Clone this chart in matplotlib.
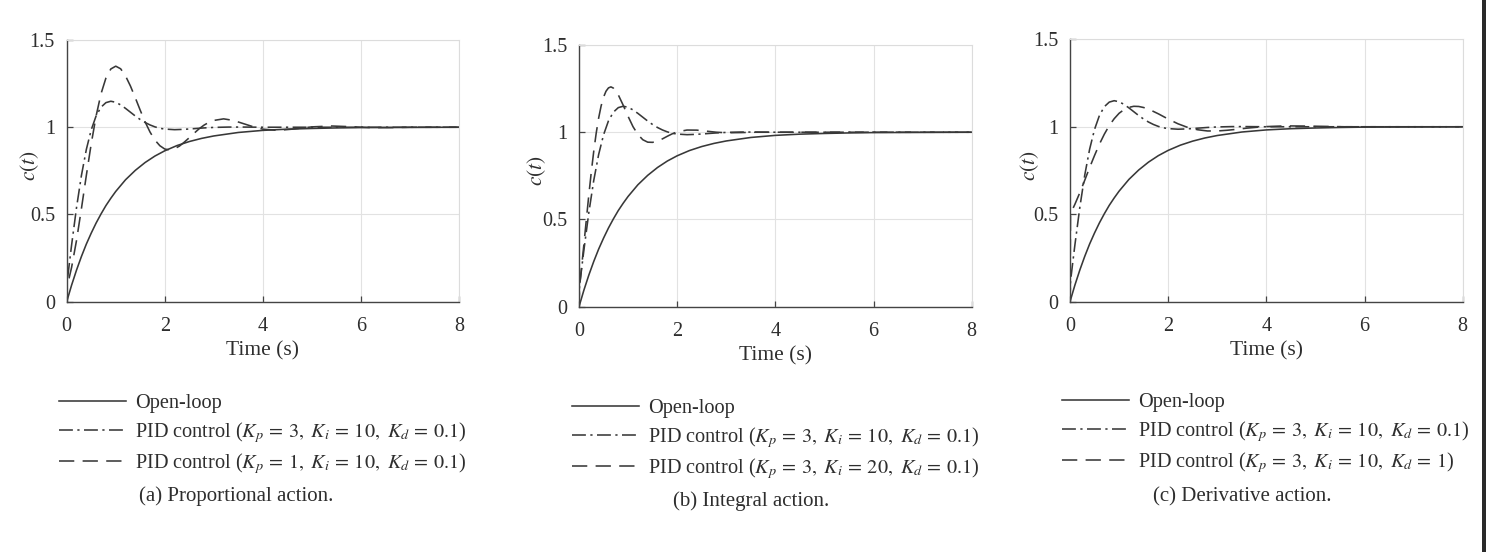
import matplotlib
matplotlib.use('Agg')
import matplotlib.pyplot as plt
from matplotlib.ticker import FuncFormatter
from matplotlib.patches import Rectangle

plt.rcParams['font.family'] = ['Liberation Serif', 'DejaVu Serif']
plt.rcParams['mathtext.fontset'] = 'stix'
plt.rcParams['lines.scale_dashes'] = False

# ---------------- data ----------------
t_open = [0, 0.1, 0.2, 0.3, 0.4, 0.5, 0.6, 0.7, 0.8, 0.9, 1.0, 1.2, 1.4, 1.6, 1.8,
          2.0, 2.25, 2.5, 2.75, 3.0, 3.5, 4.0, 4.5, 5.0, 5.5, 6.0, 7.0, 8.0]
c_open = [0, 0.095, 0.181, 0.259, 0.330, 0.393, 0.451, 0.503, 0.551, 0.593, 0.632,
          0.699, 0.753, 0.798, 0.835, 0.865, 0.895, 0.918, 0.936, 0.950, 0.970,
          0.982, 0.989, 0.993, 0.996, 0.998, 0.999, 1.0]

# PID Kp=3, Ki=10, Kd=0.1 (dash-dot, same in all panels)
t_pid_base = [0, 0.01, 0.05, 0.1, 0.2, 0.3, 0.4, 0.5, 0.6, 0.7, 0.8, 0.9, 1.0, 1.1,
              1.2, 1.3, 1.4, 1.5, 1.6, 1.7, 1.8, 1.9, 2.0, 2.2, 2.4, 2.6, 2.8, 3.0,
              3.3, 3.6, 4.0, 5.0, 6.0, 7.0, 8.0]
c_pid_base = [0, 0.115, 0.21, 0.325, 0.539, 0.723, 0.872, 0.985, 1.065, 1.115, 1.141,
              1.149, 1.143, 1.128, 1.108, 1.086, 1.064, 1.044, 1.027, 1.013, 1.002,
              0.994, 0.9895, 0.986, 0.988, 0.992, 0.996, 0.999, 1.001, 1.001, 1.0,
              1.0, 1.0, 1.0, 1.0]

# (a) PID Kp=1, Ki=10, Kd=0.1 (dashed)
t_pid_kp1 = [0, 0.01, 0.05, 0.1, 0.2, 0.3, 0.4, 0.5, 0.6, 0.7, 0.8, 0.9, 1.0, 1.1,
             1.2, 1.3, 1.4, 1.5, 1.6, 1.7, 1.8, 1.9, 2.0, 2.1, 2.2, 2.3, 2.4, 2.5,
             2.6, 2.7, 2.8, 2.9, 3.0, 3.2, 3.4, 3.6, 3.8, 4.0, 4.3, 4.6, 5.0, 5.4,
             5.8, 6.2, 6.6, 7.0, 7.5, 8.0]
c_pid_kp1 = [0, 0.099, 0.136, 0.197, 0.351, 0.533, 0.723, 0.905, 1.065, 1.192, 1.282,
             1.334, 1.350, 1.335, 1.294, 1.236, 1.168, 1.097, 1.030, 0.972, 0.926,
             0.894, 0.875, 0.870, 0.877, 0.892, 0.915, 0.940, 0.966, 0.991, 1.012,
             1.028, 1.039, 1.048, 1.039, 1.021, 1.003, 0.989, 0.982, 0.989, 1.002,
             1.007, 1.003, 0.998, 0.998, 1.0, 1.0, 1.0]

# (b) PID Kp=3, Ki=20, Kd=0.1 (dashed)
t_pid_ki20 = [0, 0.01, 0.05, 0.1, 0.15, 0.2, 0.25, 0.3, 0.35, 0.4, 0.45, 0.5, 0.55,
              0.6, 0.65, 0.7, 0.8, 0.9, 1.0, 1.1, 1.2, 1.3, 1.4, 1.5, 1.6, 1.7, 1.8,
              1.9, 2.0, 2.2, 2.4, 2.6, 2.8, 3.0, 3.3, 3.6, 4.0, 5.0, 6.0, 7.0, 8.0]
c_pid_ki20 = [0, 0.115, 0.219, 0.358, 0.501, 0.640, 0.771, 0.890, 0.994, 1.081, 1.150,
              1.201, 1.235, 1.254, 1.260, 1.253, 1.2145, 1.155, 1.091, 1.032, 0.987,
              0.957, 0.943, 0.942, 0.950, 0.962, 0.977, 0.991, 1.002, 1.0126, 1.012,
              1.006, 1.000, 0.997, 0.998, 1.0, 1.0, 1.0, 1.0, 1.0, 1.0]

# (c) PID Kp=3, Ki=10, Kd=1 (dashed)
t_pid_kd1 = [0, 0.01, 0.05, 0.1, 0.2, 0.3, 0.4, 0.5, 0.6, 0.7, 0.8, 0.9, 1.0, 1.1,
             1.2, 1.3, 1.4, 1.5, 1.6, 1.8, 2.0, 2.2, 2.4, 2.6, 2.8, 3.0, 3.2, 3.4,
             3.6, 3.8, 4.0, 4.4, 4.8, 5.2, 5.6, 6.0, 7.0, 8.0]
c_pid_kd1 = [0, 0.505, 0.527, 0.557, 0.623, 0.694, 0.767, 0.836, 0.901, 0.958, 1.007,
             1.046, 1.077, 1.098, 1.111, 1.117, 1.116, 1.110, 1.101, 1.074, 1.044,
             1.017, 0.996, 0.983, 0.976, 0.976, 0.980, 0.9855, 0.992, 0.997, 1.001,
             1.005, 1.004, 1.002, 1.0, 1.0, 1.0, 1.0]

x_ticks = [0, 2, 4, 6, 8]
y_ticks = [0, 0.5, 1, 1.5]

label_open = 'Open-loop'
label_base = r'PID control ($K_p\,=\,3,\ K_i\,=\,10,\ K_d\,=\,0.1$)'
labels_second = [r'PID control ($K_p\,=\,1,\ K_i\,=\,10,\ K_d\,=\,0.1$)',
                 r'PID control ($K_p\,=\,3,\ K_i\,=\,20,\ K_d\,=\,0.1$)',
                 r'PID control ($K_p\,=\,3,\ K_i\,=\,10,\ K_d\,=\,1$)']
captions = ['(a) Proportional action.', '(b) Integral action.', '(c) Derivative action.']
second_t = [t_pid_kp1, t_pid_ki20, t_pid_kd1]
second_c = [c_pid_kp1, c_pid_ki20, c_pid_kd1]

# ---------------- layout ----------------
W, H = 1486, 552
fig = plt.figure(figsize=(W / 100, H / 100), dpi=100)

def frac_rect(l, t, r, b):
    return [l / W, 1 - b / H, (r - l) / W, (b - t) / H]

axes_px = [(66.7, 40, 459, 301.7), (579, 45, 971.7, 306.7), (1070, 39.3, 1462.7, 301.7)]
ylabel_x = [-0.066, -0.078, -0.075]
legend_px = [(59, 394), (572, 399), (1062, 393)]
caption_px = [(236, 496), (751, 501), (1242, 497)]

LC = '#383838'
TC = '#2e2e2e'
DASH = (0, (11, 6))
DASHDOT = (0, (10, 3.2, 1.6, 3.2))
fmt = FuncFormatter(lambda v, p: '%g' % v)

for i in range(3):
    ax = fig.add_axes(frac_rect(*axes_px[i]))
    ax.plot(t_open, c_open, color=LC, lw=1.15, ls='-', label=label_open)
    ax.plot(t_pid_base, c_pid_base, color=LC, lw=1.15, ls=DASHDOT, label=label_base)
    ax.plot(second_t[i], second_c[i], color=LC, lw=1.15, ls=DASH, label=labels_second[i])
    ax.set_xlim(0, 8)
    ax.set_ylim(0, 1.5)
    ax.set_xticks(x_ticks)
    ax.set_yticks(y_ticks)
    ax.xaxis.set_major_formatter(fmt)
    ax.yaxis.set_major_formatter(fmt)
    ax.grid(True, color='#e2e2e2', lw=0.8)
    ax.set_axisbelow(True)
    for s in ('left', 'bottom'):
        ax.spines[s].set_color('#444444')
        ax.spines[s].set_linewidth(1.0)
    for s in ('top', 'right'):
        ax.spines[s].set_color('#dcdcdc')
        ax.spines[s].set_linewidth(0.8)
    ax.tick_params(axis='both', direction='in', length=4, width=0.9, color='#444444',
                   labelsize=14.5, labelcolor=TC)
    ax.tick_params(axis='x', pad=11)
    ax.tick_params(axis='y', pad=8.5)
    ax.set_xlabel('Time (s)', fontsize=15.5, color=TC)
    ax.xaxis.set_label_coords(0.5, -0.15)
    ax.set_ylabel('$c(t)$', fontsize=15.5, color=TC)
    ax.yaxis.set_label_coords(ylabel_x[i], 0.52)

    lx, ly = legend_px[i]
    leg = ax.legend(loc='upper left', bbox_to_anchor=(lx / W, 1 - ly / H),
                    bbox_transform=fig.transFigure, frameon=False, fontsize=14.6,
                    handlelength=3.3, handletextpad=0.45, labelspacing=0.32,
                    borderpad=0, borderaxespad=0)
    for txt in leg.get_texts():
        txt.set_color(TC)

    cx, cy = caption_px[i]
    fig.text(cx / W, 1 - cy / H, captions[i], ha='center', va='center',
             fontsize=15, color=TC)

fig.add_artist(Rectangle((1482 / W, 0), 4 / W, 1, transform=fig.transFigure,
                         color='#2a2a2a', lw=0))

fig.savefig('out.png', dpi=100)
